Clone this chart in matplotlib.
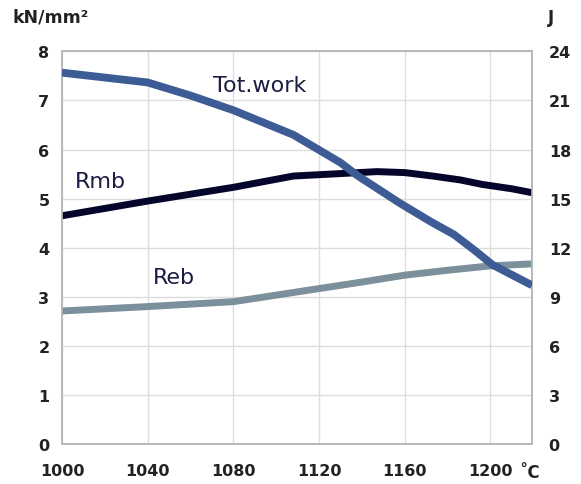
import matplotlib
matplotlib.use("Agg")
import matplotlib.pyplot as plt

# Data
tot_t = [1000, 1040, 1060, 1080, 1108, 1130, 1138, 1158, 1172, 1183, 1192, 1201, 1219.4]
tot_j = [22.7, 22.1, 21.3, 20.4, 18.9, 17.2, 16.4, 14.7, 13.6, 12.8, 11.9, 10.95, 9.7]

rmb_t = [1000, 1040, 1080, 1108, 1130, 1147, 1160, 1173, 1186, 1196, 1210, 1219.4]
rmb_v = [4.65, 4.95, 5.23, 5.46, 5.51, 5.55, 5.53, 5.46, 5.38, 5.29, 5.20, 5.12]

reb_t = [1000, 1040, 1080, 1110, 1140, 1160, 1180, 1200, 1219.4]
reb_v = [2.71, 2.80, 2.90, 3.10, 3.30, 3.44, 3.54, 3.63, 3.67]

x_ticks = [1000, 1040, 1080, 1120, 1160, 1200]
left_ticks = [0, 1, 2, 3, 4, 5, 6, 7, 8]
right_ticks = [0, 3, 6, 9, 12, 15, 18, 21, 24]

c_tot = "#3d5b94"
c_rmb = "#05052b"
c_reb = "#7b909b"
c_txt = "#1c1c44"
c_tick = "#222222"

fig = plt.figure(figsize=(5.81, 4.85), dpi=100)
ax = fig.add_axes([0.1067, 0.0825, 0.809, 0.8095])
ax2 = ax.twinx()

ax.set_xlim(1000, 1219.4)
ax.set_ylim(0, 8)
ax2.set_ylim(0, 24)
ax.set_xticks(x_ticks)
ax.set_yticks(left_ticks)
ax2.set_yticks(right_ticks)

ax.grid(True, color="#dddddd", lw=1.0)
ax.set_axisbelow(True)
for a in (ax, ax2):
    for s in a.spines.values():
        s.set_color("#b8b8b8")
        s.set_linewidth(1.2)

ax.tick_params(axis="both", length=0, labelsize=11.5, labelcolor=c_tick)
ax.tick_params(axis="y", pad=9)
ax.tick_params(axis="x", pad=14)
ax2.tick_params(axis="y", length=0, labelsize=11.5, labelcolor=c_tick, pad=12)
for lab in ax.get_xticklabels() + ax.get_yticklabels() + ax2.get_yticklabels():
    lab.set_fontweight("bold")

ax.plot(rmb_t, rmb_v, color=c_rmb, lw=5.0, solid_capstyle="butt", zorder=3)
ax.plot(reb_t, reb_v, color=c_reb, lw=5.0, solid_capstyle="butt", zorder=3)
ax2.plot(tot_t, tot_j, color=c_tot, lw=5.6, solid_capstyle="butt", zorder=4)

ax.text(1070.4, 7.19, "Tot.work", fontsize=16, color=c_txt, ha="left", va="baseline", zorder=5)
ax.text(1006, 5.23, "Rmb", fontsize=16, color=c_txt, ha="left", va="baseline", zorder=5)
ax.text(1042.5, 3.28, "Reb", fontsize=16, color=c_txt, ha="left", va="baseline", zorder=5)

fig.text(13 / 581, 1 - 23 / 485, "kN/mm²", fontsize=12.5, fontweight="bold", color=c_tick,
         ha="left", va="baseline")
fig.text(548 / 581, 1 - 23 / 485, "J", fontsize=12, fontweight="bold", color=c_tick,
         ha="left", va="baseline")
fig.text(519 / 581, 1 - 478 / 485, "˚C", fontsize=12, fontweight="bold", color=c_tick,
         ha="left", va="baseline")

fig.savefig("out.png", dpi=100)
